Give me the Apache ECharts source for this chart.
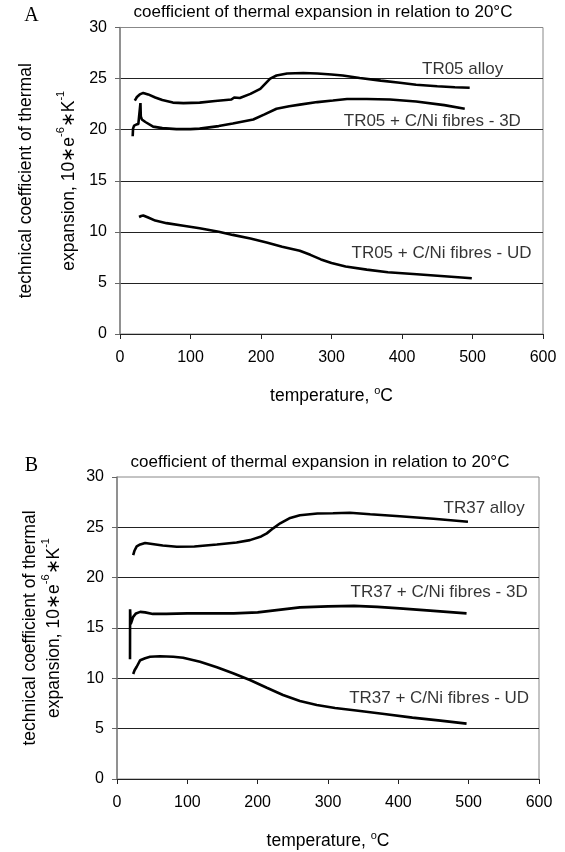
<!DOCTYPE html>
<html><head><meta charset="utf-8">
<script src="https://cdn.jsdelivr.net/npm/echarts/dist/echarts.min.js"></script>
<style>html,body{margin:0;padding:0;background:#fff}#c{width:565px;height:852px}</style>
</head><body><div id="c"></div>
<script>
// ---- data ----
const xTicks = [0, 100, 200, 300, 400, 500, 600];
const yTicks = [0, 5, 10, 15, 20, 25, 30];
const panelLetters = ['A', 'B'];
const panelTitle = 'coefficient of thermal expansion in relation to 20°C';
const yNameLine1 = 'technical coefficient of thermal';
const yNameLine2 = ['expansion, 10∗e', '-6', '∗K', '-1'];
const xNameParts = ['temperature, ', 'o', 'C'];

const tr05Alloy = [[21,22.85],[24,23.2],[28,23.45],[33,23.6],[40,23.45],[50,23.15],[60,22.9],[75,22.65],[90,22.6],[113,22.65],[135,22.8],[158,22.95],[162,23.15],[170,23.1],[185,23.5],[199,24.0],[213,25.0],[222,25.3],[237,25.5],[260,25.55],[280,25.5],[300,25.4],[316,25.3],[340,25.05],[370,24.8],[397,24.6],[420,24.4],[450,24.25],[475,24.15],[496,24.1]];
const tr05Fib3D = [[18,19.35],[18.5,20.1],[20,20.4],[23,20.5],[26,20.55],[28.5,20.6],[29,22.6],[29.5,21.3],[31,21.0],[36,20.75],[47,20.3],[60,20.15],[80,20.05],[100,20.05],[113,20.1],[140,20.35],[160,20.6],[189,21.0],[205,21.5],[222,22.05],[240,22.3],[255,22.45],[280,22.7],[302,22.85],[322,23.0],[350,23.0],[383,22.95],[420,22.75],[460,22.4],[489,22.05]];
const tr05FibUD = [[27,11.45],[30,11.55],[33,11.6],[40,11.4],[50,11.1],[66,10.85],[90,10.6],[113,10.35],[140,10.0],[160,9.7],[185,9.35],[208,8.95],[230,8.55],[255,8.15],[270,7.75],[285,7.3],[300,6.95],[320,6.6],[350,6.3],[380,6.05],[421,5.85],[460,5.65],[499,5.45]];

const tr37Alloy = [[23,22.25],[25,22.7],[28,23.1],[33,23.3],[40,23.45],[50,23.35],[65,23.2],[85,23.07],[110,23.1],[142,23.3],[170,23.5],[189,23.73],[205,24.1],[213,24.4],[222,24.9],[232,25.4],[245,25.9],[260,26.2],[285,26.38],[307,26.4],[331,26.45],[360,26.3],[402,26.1],[450,25.85],[499,25.55]];
const tr37Fib3D = [[18.5,11.9],[18.6,16.85],[19.5,15.4],[21,15.7],[23,16.1],[27,16.45],[33,16.6],[40,16.55],[51,16.4],[70,16.4],[100,16.45],[130,16.45],[166,16.45],[200,16.55],[230,16.8],[260,17.05],[300,17.15],[337,17.2],[370,17.1],[402,16.95],[450,16.7],[497,16.45]];
const tr37FibUD = [[23,10.43],[25,10.8],[28,11.15],[33,11.8],[40,12.0],[47,12.15],[61,12.2],[80,12.15],[94,12.05],[118,11.65],[142,11.1],[165,10.5],[189,9.83],[213,9.07],[236,8.35],[260,7.75],[284,7.35],[310,7.05],[340,6.8],[380,6.45],[420,6.1],[460,5.8],[497,5.5]];

const labelsA = [[486,25.95,'TR05 alloy'],[443,20.85,'TR05 + C/Ni fibres - 3D'],[456,7.9,'TR05 + C/Ni fibres - UD']];
const labelsB = [[522,26.9,'TR37 alloy'],[458,18.5,'TR37 + C/Ni fibres - 3D'],[458,8.05,'TR37 + C/Ni fibres - UD']];

// ---- chart ----
const FONT = 'Arial, "Liberation Sans", Helvetica, sans-serif';
const SERIF = '"Times New Roman", "Liberation Serif", serif';
const chart = echarts.init(document.getElementById('c'), null, {renderer: 'canvas'});

const grids = [
  {left: 120, width: 423, top: 27.5, height: 306.5},
  {left: 117, width: 422, top: 477, height: 302}
];
const yGapLine = [19, 0];
const yNameGap = [37, 49];

function xAxisFor(i) {
  return {
    type: 'value', gridIndex: i,
    min: xTicks[0], max: xTicks[xTicks.length-1], interval: xTicks[1]-xTicks[0],
    axisLine: {show: true, onZero: false, lineStyle: {color: '#222', width: 1.2}},
    axisTick: {show: true, length: 5, lineStyle: {color: '#222'}},
    axisLabel: {show: true, margin: 16, color: '#000', fontSize: 16, fontFamily: FONT},
    splitLine: {show: false},
    name: '{a|' + xNameParts[0] + '}{s|' + xNameParts[1] + '}{a|' + xNameParts[2] + '}',
    nameLocation: 'middle', nameGap: 51,
    nameTextStyle: {
      color: '#000', fontFamily: FONT,
      rich: {
        a: {fontSize: 17.5, lineHeight: 22, fontFamily: FONT, color: '#000', verticalAlign: 'middle'},
        s: {fontSize: 11, lineHeight: 12, fontFamily: FONT, color: '#000', verticalAlign: 'top'}
      }
    }
  };
}
function yAxisFor(i) {
  const gap = yGapLine[i];
  const mid = gap > 0 ? '{g| }\n' : '';
  return {
    type: 'value', gridIndex: i,
    min: yTicks[0], max: yTicks[yTicks.length-1], interval: yTicks[1]-yTicks[0],
    axisLine: {show: true, lineStyle: {color: '#808080', width: 1.5}},
    axisTick: {show: true, length: 5, lineStyle: {color: '#666'}},
    axisLabel: {show: true, margin: 13, color: '#000', fontSize: 16, fontFamily: FONT},
    splitLine: {show: true, showMinLine: false, showMaxLine: false, lineStyle: {color: '#222', width: 1}},
    name: '{a|' + yNameLine1 + '}\n' + mid + '{b|' + yNameLine2[0] + '}{s|' + yNameLine2[1] + '}{b|' + yNameLine2[2] + '}{s|' + yNameLine2[3] + '}',
    nameLocation: 'middle', nameRotate: 90, nameGap: yNameGap[i],
    nameTextStyle: {
      color: '#000', fontFamily: FONT,
      rich: {
        a: {fontSize: 17.5, lineHeight: 20, fontFamily: FONT, color: '#000'},
        g: {fontSize: 4, lineHeight: gap || 1, fontFamily: FONT, color: '#fff'},
        b: {fontSize: 17.5, lineHeight: 28, fontFamily: FONT, color: '#000', verticalAlign: 'middle'},
        s: {fontSize: 11, lineHeight: 14, fontFamily: FONT, color: '#000', verticalAlign: 'top'}
      }
    }
  };
}
function lineSeries(data, i) {
  return {
    type: 'line', xAxisIndex: i, yAxisIndex: i, data: data,
    showSymbol: false, symbol: 'none', smooth: false, animation: false,
    lineStyle: {color: '#000', width: 2.6}, silent: true
  };
}
function labelSeries(data, i) {
  return {
    type: 'scatter', xAxisIndex: i, yAxisIndex: i, data: data,
    symbolSize: 0, animation: false, silent: true,
    label: {show: true, position: 'inside', color: '#000', fontSize: 17, fontFamily: FONT,
      formatter: p => p.data[2]}
  };
}

const option = {
  backgroundColor: '#fff',
  animation: false,
  title: [
    {text: panelLetters[0], left: 31.5, top: 4, textAlign: 'center', padding: 0,
     textStyle: {fontFamily: SERIF, fontSize: 20, fontWeight: 'normal', color: '#000', lineHeight: 24}},
    {text: panelLetters[1], left: 31.5, top: 453.5, textAlign: 'center', padding: 0,
     textStyle: {fontFamily: SERIF, fontSize: 20, fontWeight: 'normal', color: '#000', lineHeight: 24}},
    {text: panelTitle, left: 323, top: 2.5, textAlign: 'center', padding: 0,
     textStyle: {fontFamily: FONT, fontSize: 17, fontWeight: 'normal', color: '#000', lineHeight: 20}},
    {text: panelTitle, left: 320, top: 452, textAlign: 'center', padding: 0,
     textStyle: {fontFamily: FONT, fontSize: 17, fontWeight: 'normal', color: '#000', lineHeight: 20}}
  ],
  grid: grids.map(g => Object.assign({show: true, borderColor: '#888', borderWidth: 1, backgroundColor: 'transparent', containLabel: false, outerBoundsMode: 'none'}, g)),
  xAxis: [xAxisFor(0), xAxisFor(1)],
  yAxis: [yAxisFor(0), yAxisFor(1)],
  series: [
    lineSeries(tr05Alloy, 0), lineSeries(tr05Fib3D, 0), lineSeries(tr05FibUD, 0),
    lineSeries(tr37Alloy, 1), lineSeries(tr37Fib3D, 1), lineSeries(tr37FibUD, 1),
    labelSeries(labelsA, 0), labelSeries(labelsB, 1)
  ]
};
chart.setOption(option);
</script>
</body></html>
